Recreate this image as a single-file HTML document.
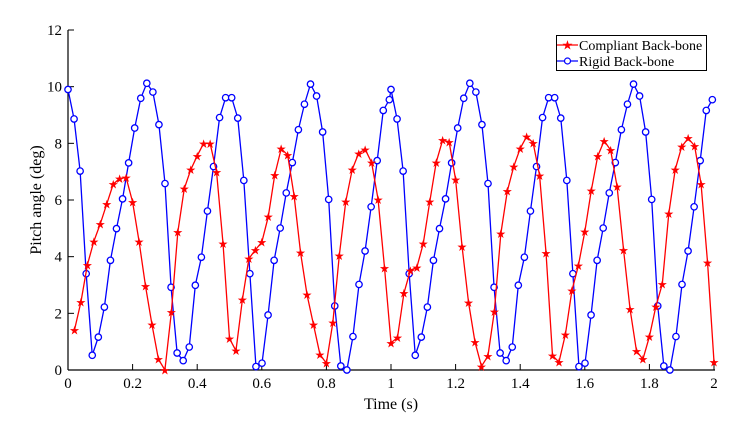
<!DOCTYPE html>
<html><head><meta charset="utf-8"><style>
body{margin:0;background:#fff;}
svg{display:block;font-family:"Liberation Serif",serif;}
</style></head><body>
<svg id="chart" width="755" height="423" viewBox="0 0 755 423">
<rect width="755" height="423" fill="#fff"/>
<g id="axes"></g>
<g id="series"></g>
<g>
<rect x="556.5" y="35.5" width="150" height="35" fill="#fff" stroke="#000" stroke-width="1"/>
<g>
<line x1="557" y1="45" x2="578" y2="45" stroke="#f00" stroke-width="1.2"/>
<text x="567.5" y="49.5" fill="#f00" font-size="13" text-anchor="middle">★</text>
<text x="579" y="50" font-size="14">Compliant Back-bone</text></g>
<g>
<line x1="557" y1="61" x2="578" y2="61" stroke="#00f" stroke-width="1.2"/>
<circle cx="567.5" cy="61" r="3" fill="#fff" stroke="#00f" stroke-width="1.2"/>
<text x="579" y="66" font-size="14">Rigid Back-bone</text></g>
</g>
</svg>
<script>
const xTicks=[0,0.2,0.4,0.6,0.8,1,1.2,1.4,1.6,1.8,2];
const xTickLabels=["0","0.2","0.4","0.6","0.8","1","1.2","1.4","1.6","1.8","2"];
const yTicks=[0,2,4,6,8,10,12];
const yTickLabels=["0","2","4","6","8","10","12"];
const compliantStart=0.02, compliantStep=0.02;
const compliantValues=[1.41,2.4,3.71,4.54,5.16,5.86,6.56,6.76,6.79,5.93,4.54,2.96,1.6,0.38,0,2.04,4.87,6.4,7.07,7.56,8.0,8.0,6.98,4.46,1.11,0.68,2.49,3.93,4.24,4.51,5.41,6.88,7.81,7.59,
6.15,4.14,2.66,1.6,0.55,0.24,1.68,4.05,5.95,7.08,7.65,7.79,7.32,6.02,3.6,0.96,1.14,2.71,3.52,3.62,4.47,5.94,7.33,8.12,8.05,6.72,4.36,2.39,0.99,0.13,0.49,2.07,4.81,6.31,
7.18,7.82,8.24,8.02,6.87,4.13,0.51,0.28,1.26,2.8,3.68,4.88,6.33,7.55,8.09,7.76,6.47,4.24,2.16,0.67,0.38,1.18,2.24,3.04,5.52,7.08,7.88,8.18,7.91,6.56,3.8,0.29];
const rigidSegmentStarts=[0,1];
const rigidStep=0.01877;
const rigidValues=[
[9.9,8.86,7.02,3.4,0.52,1.16,2.22,3.87,4.99,6.04,7.31,8.54,9.59,10.12,9.81,8.66,6.58,2.92,0.6,0.33,0.81,2.99,3.98,5.61,7.18,8.91,9.61,9.61,8.89,6.69,3.4,0.12,0.24,1.94,3.87,5.01,6.25,7.32,8.48,9.38,10.09,9.67,8.4,6.02,2.26,0.14,0.0,1.18,3.02,4.2,5.76,7.39,9.16,9.54],
[9.9,8.86,7.02,3.4,0.52,1.16,2.22,3.87,4.99,6.04,7.31,8.54,9.59,10.12,9.81,8.66,6.58,2.92,0.6,0.33,0.81,2.99,3.98,5.61,7.18,8.91,9.61,9.61,8.89,6.69,3.4,0.12,0.24,1.94,3.87,5.01,6.25,7.32,8.48,9.38,10.09,9.67,8.4,6.02,2.26,0.14,0.0,1.18,3.02,4.2,5.76,7.39,9.16,9.54]];

const X0=68,X1=714,Y0=370,Y1=30;
const xs=t=>X0+(t-0)/(2-0)*(X1-X0);
const ys=v=>Y0-(v-0)/(12-0)*(Y0-Y1);
const NS="http://www.w3.org/2000/svg";
function mk(tag,attrs,parent){const e=document.createElementNS(NS,tag);for(const k in attrs)e.setAttribute(k,attrs[k]);parent.appendChild(e);return e;}
const axes=document.getElementById('axes');
const xa=mk('line',{x1:X0,y1:Y0,x2:X1+1,y2:Y0,stroke:'#000','stroke-width':1.2},axes);


const ya=mk('line',{x1:X0,y1:Y0,x2:X0,y2:Y1,stroke:'#000','stroke-width':1.2},axes);


xTicks.forEach((t,i)=>{
  const tk=mk('line',{x1:xs(t),y1:Y0,x2:xs(t),y2:Y0-6,stroke:'#000','stroke-width':1},axes);
  
  
  const lb=mk('text',{x:xs(t),y:Y0+18,'font-size':15,'text-anchor':'middle'},axes);
  lb.textContent=xTickLabels[i];
  
  
});
yTicks.forEach((v,i)=>{
  const tk=mk('line',{x1:X0,y1:ys(v),x2:X0+6,y2:ys(v),stroke:'#000','stroke-width':1},axes);
  
  
  const lb=mk('text',{x:X0-6,y:ys(v)+5,'font-size':15,'text-anchor':'end'},axes);
  lb.textContent=yTickLabels[i];
  
  
});
const xt=mk('text',{x:391,y:409,'font-size':16,'text-anchor':'middle'},axes);
xt.textContent='Time (s)';


const yt=mk('text',{x:0,y:0,'font-size':16,'text-anchor':'middle',transform:'translate(41,200) rotate(-90)'},axes);
yt.textContent='Pitch angle (deg)';



const ser=document.getElementById('series');
const rigidPts=[];
rigidSegmentStarts.forEach((s,si)=>rigidValues[si].forEach((v,k)=>rigidPts.push([s+k*rigidStep,v])));
const bl=mk('polyline',{points:rigidPts.map(p=>xs(p[0])+','+ys(p[1])).join(' '),fill:'none',stroke:'#00f','stroke-width':1.3},ser);


rigidPts.forEach(p=>{
  const c=mk('circle',{cx:xs(p[0]),cy:ys(p[1]),r:3.2,fill:'#fff',stroke:'#00f','stroke-width':1.3},ser);
  
  
});
const cPts=compliantValues.map((v,i)=>[compliantStart+i*compliantStep,v]);
const rl=mk('polyline',{points:cPts.map(p=>xs(p[0])+','+ys(p[1])).join(' '),fill:'none',stroke:'#f00','stroke-width':1.3},ser);


cPts.forEach(p=>{
  const s=mk('text',{x:xs(p[0]),y:ys(p[1])+4.5,'font-size':12,fill:'#f00','text-anchor':'middle','font-family':'DejaVu Sans, sans-serif'},ser);
  s.textContent='★';
  
  
});
</script>
</body></html>
